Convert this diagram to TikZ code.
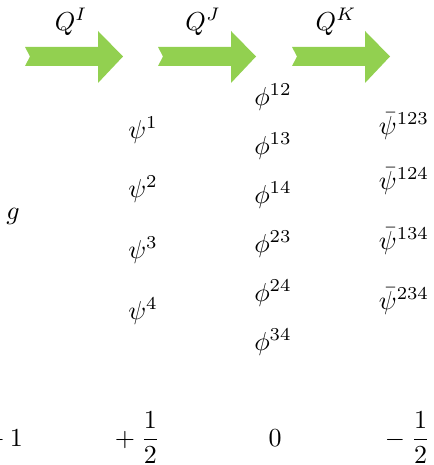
\documentclass[tikz,border=0pt]{standalone}
\usepackage{amsmath,amssymb}
\usepackage{xcolor}
\usepackage{tikz}
\definecolor{arrowgreen}{RGB}{146,208,80}
\tikzset{qarrow/.style={fill=arrowgreen}}

\begin{document}
\begin{tikzpicture}[x=0.385pt,y=-0.385pt]
\useasboundingbox (0,0) rectangle (434,465);

\fill[qarrow] (25,47) -- (30,56.5) -- (25,66) -- (98,66) -- (98,83) -- (123,56.5) -- (98,31) -- (98,47) -- cycle;
\fill[qarrow,shift={(133,0)}] (25,47) -- (30,56.5) -- (25,66) -- (98,66) -- (98,83) -- (123,56.5) -- (98,31) -- (98,47) -- cycle;
\fill[qarrow,shift={(267,0)}] (25,47) -- (30,56.5) -- (25,66) -- (98,66) -- (98,83) -- (123,56.5) -- (98,31) -- (98,47) -- cycle;
\node (qI) at (71,22) {$Q^I$};
\node (qJ) at (203,22) {$Q^J$};
\node (qK) at (336,22) {$Q^K$};

\node (g) at (13,216) {$g$};

\node (psi1) at (143,130) {$\psi^1$};
\node (psi2) at (143,189) {$\psi^2$};
\node (psi3) at (143,250) {$\psi^3$};
\node (psi4) at (143,311) {$\psi^4$};

\node (phi12) at (273,97) {$\phi^{12}$};
\node (phi13) at (273,146) {$\phi^{13}$};
\node (phi14) at (273,195) {$\phi^{14}$};
\node (phi23) at (273,244) {$\phi^{23}$};
\node (phi24) at (273,293) {$\phi^{24}$};
\node (phi34) at (273,342) {$\phi^{34}$};

\node (psib123) at (404,126) {$\bar{\psi}^{123}$};
\node (psib124) at (404,181) {$\bar{\psi}^{124}$};
\node (psib134) at (404,241) {$\bar{\psi}^{134}$};
\node (psib234) at (404,301) {$\bar{\psi}^{234}$};

\node[anchor=base] (chg) at (3.5,446) {$+\:1$};
\node[anchor=base] (chpsi) at (137.5,446) {$+\:\dfrac{1}{2}$};
\node[anchor=base] (chphi) at (275,446) {$0$};
\node[anchor=base] (chpsib) at (407.5,446) {$-\:\dfrac{1}{2}$};
\end{tikzpicture}
\end{document}
